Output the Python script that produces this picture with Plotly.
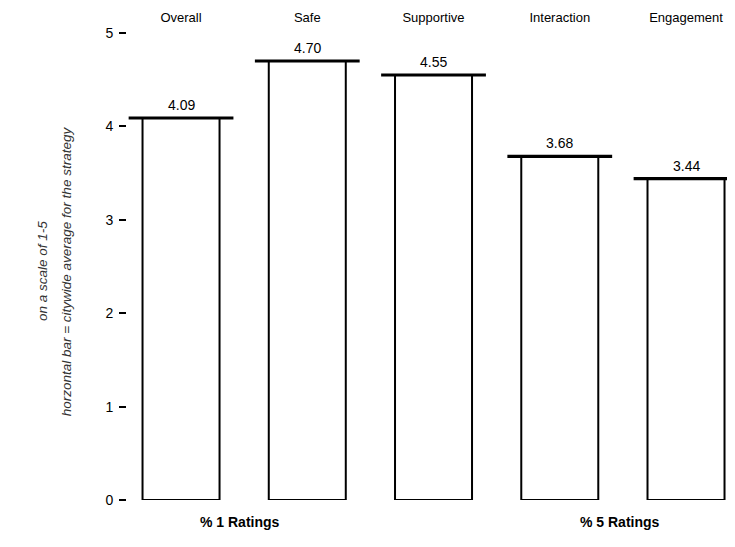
import plotly.graph_objects as go

categories = ["Overall", "Safe", "Supportive", "Interaction", "Engagement"]
averages = [4.09, 4.70, 4.55, 3.68, 3.44]
value_labels = ["4.09", "4.70", "4.55", "3.68", "3.44"]
y_ticks = [0, 1, 2, 3, 4, 5]
group_labels = ["% 1 Ratings", "% 5 Ratings"]
group_x = [0.47, 3.48]

font_family = "Arial, Liberation Sans, sans-serif"
bar_thickness = 0.034

fig = go.Figure()

# white bars with black outline, height = score
fig.add_trace(go.Bar(
    x=categories, y=averages, width=0.61,
    marker=dict(color="white", line=dict(color="black", width=2)),
    hoverinfo="skip", showlegend=False,
))

# thick horizontal bar marking the citywide average
fig.add_trace(go.Bar(
    x=categories, y=[bar_thickness] * len(averages),
    base=[a - bar_thickness / 2 for a in averages], width=0.83,
    marker=dict(color="black", line=dict(width=0)),
    hoverinfo="skip", showlegend=False,
))

for cat, val, lab in zip(categories, averages, value_labels):
    fig.add_annotation(x=cat, y=val, text=lab, showarrow=False,
                       yanchor="bottom", yshift=3,
                       font=dict(family=font_family, size=14, color="black"))

for gx, gl in zip(group_x, group_labels):
    fig.add_annotation(x=gx, xref="x", y=0, yref="paper", text="<b>" + gl + "</b>",
                       showarrow=False, yanchor="middle", yshift=-22,
                       font=dict(family=font_family, size=14, color="black"))

fig.add_annotation(x=-0.14, xref="paper", y=0.49, yref="paper", xanchor="center",
                   text="<i>on a scale of 1-5</i>", textangle=-90, showarrow=False,
                   font=dict(family=font_family, size=13.5, color="#333"))
fig.add_annotation(x=-0.1, xref="paper", y=0.49, yref="paper", xanchor="center",
                   text="<i>horzontal bar = citywide average for the strategy</i>",
                   textangle=-90, showarrow=False,
                   font=dict(family=font_family, size=13.5, color="#333"))

# page body adds an 8px offset, so margins are shifted to compensate
fig.update_layout(
    width=735, height=547,
    margin=dict(l=119, r=8, t=25, b=55, autoexpand=False),
    paper_bgcolor="white", plot_bgcolor="white",
    barmode="overlay",
    font=dict(family=font_family, size=12, color="black"),
    xaxis=dict(side="top", range=[-0.428, 4.388], showline=False, showgrid=False,
               ticks="", tickfont=dict(size=13), ticklabelstandoff=7,
               automargin=False),
    yaxis=dict(range=[0, 5], tickvals=y_ticks, showgrid=False, zeroline=False,
               showline=False, ticks="outside", ticklen=7, tickwidth=2,
               tickcolor="black", tickfont=dict(size=14), ticklabelstandoff=3,
               automargin=False),
)

fig.write_html("out.html")
